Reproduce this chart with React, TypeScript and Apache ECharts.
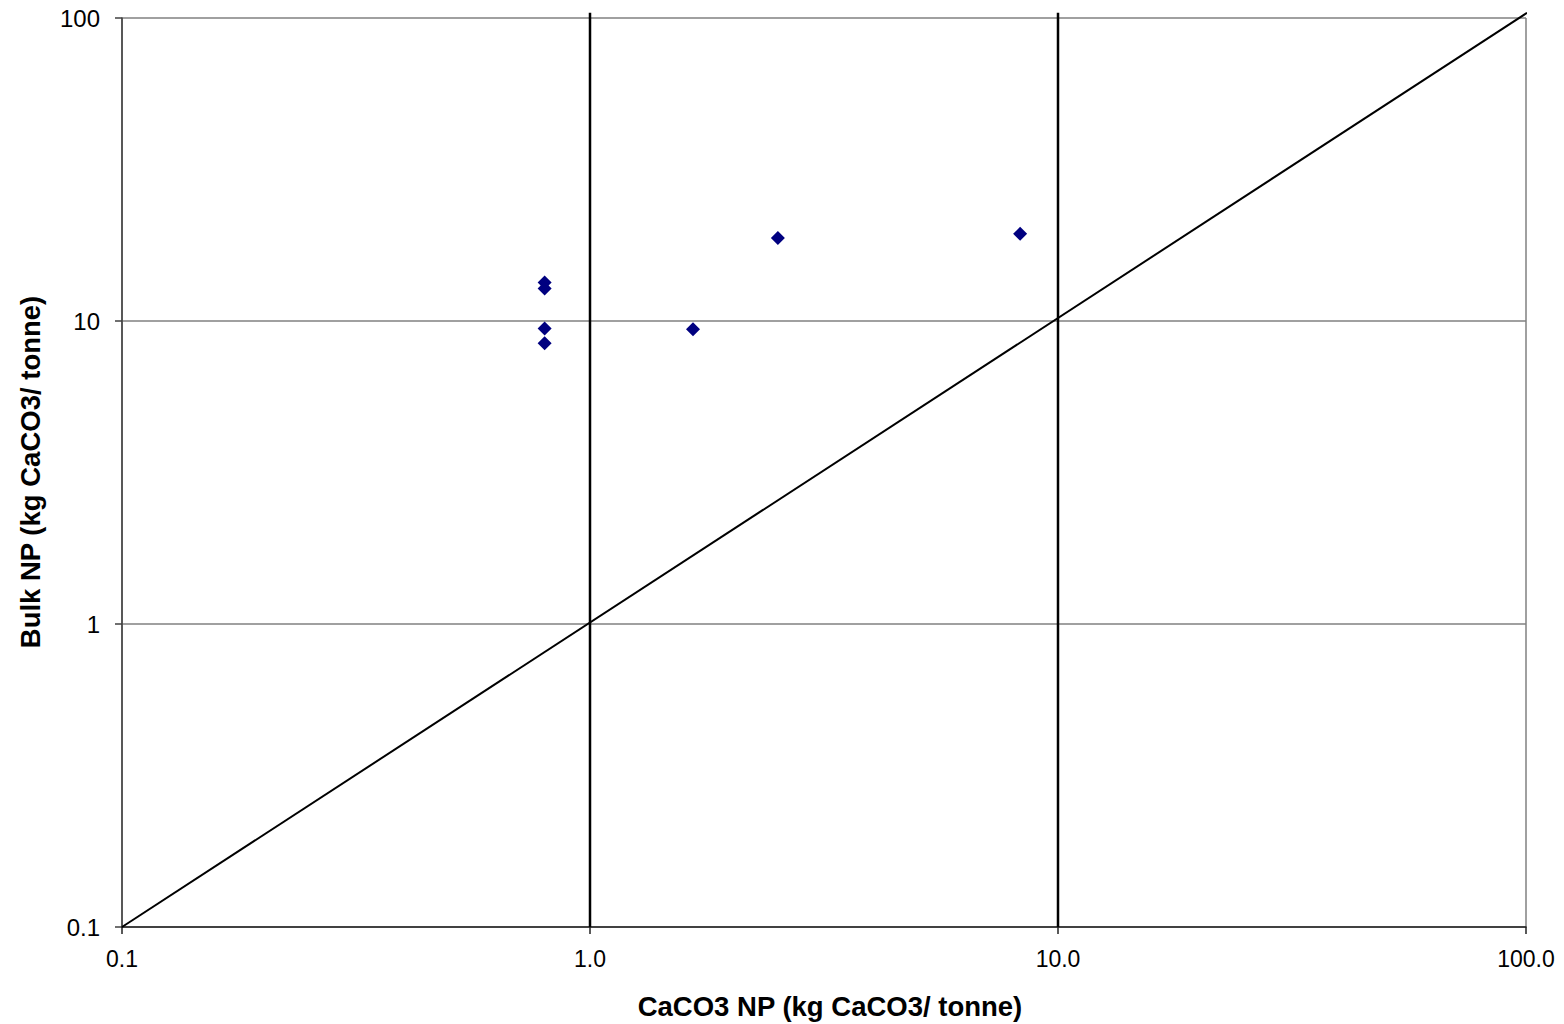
import React, { useEffect, useRef } from "react";
import * as echarts from "echarts";

const caco3NP = [0.8, 0.8, 0.8, 0.8, 1.66, 2.52, 8.3];
const bulkNP = [13.4, 12.8, 9.45, 8.45, 9.4, 18.8, 19.4];
const xTickLabels: Record<string, string> = { "0.1": "0.1", "1": "1.0", "10": "10.0", "100": "100.0" };
const yTickLabels: Record<string, string> = { "0.1": "0.1", "1": "1", "10": "10", "100": "100" };
const verticalLine1 = [[1, 0.1], [1, 104]];
const verticalLine10 = [[10, 0.1], [10, 104]];
const oneToOneLine = [[0.1, 0.1], [100.5, 104]];

const FONT = "'Liberation Sans', Arial, sans-serif";

function fmt(map: Record<string, string>, v: number) {
  const k = String(Math.round(v * 1000) / 1000);
  return map[k] ?? k;
}

export default function App() {
  const ref = useRef<HTMLDivElement>(null);
  useEffect(() => {
    if (!ref.current) return;
    const chart = echarts.init(ref.current, null, { renderer: "svg" });
    const points = caco3NP.map((x, i) => [x, bulkNP[i]]);
    chart.setOption({
      animation: false,
      backgroundColor: "#ffffff",
      textStyle: { fontFamily: FONT },
      grid: { left: 122, right: 38, top: 18, bottom: 97, containLabel: false },
      xAxis: {
        type: "log",
        logBase: 10,
        min: 0.1,
        max: 100,
        axisLine: { show: true, lineStyle: { color: "#222222", width: 1.5 } },
        axisTick: { show: true, inside: false, length: 7, lineStyle: { color: "#222222", width: 1.5 } },
        minorTick: { show: false },
        axisLabel: {
          color: "#000",
          fontSize: 23,
          fontFamily: FONT,
          margin: 20,
          formatter: (v: number) => fmt(xTickLabels, v),
        },
        splitLine: { show: true, lineStyle: { color: "#808080", width: 1.5 } },
      },
      yAxis: {
        type: "log",
        logBase: 10,
        min: 0.1,
        max: 100,
        axisLine: { show: true, lineStyle: { color: "#404040", width: 1.5 } },
        axisTick: { show: true, inside: false, length: 7, lineStyle: { color: "#404040", width: 1.5 } },
        minorTick: { show: false },
        axisLabel: {
          color: "#000",
          fontSize: 24,
          fontFamily: FONT,
          margin: 22,
          formatter: (v: number) => fmt(yTickLabels, v),
        },
        splitLine: { show: true, lineStyle: { color: "#808080", width: 1.5 } },
      },
      graphic: [
        {
          type: "text",
          x: 830,
          y: 1006,
          style: {
            text: "CaCO3 NP (kg CaCO3/ tonne)",
            fontFamily: FONT,
            fontWeight: "bold",
            fontSize: 27.5,
            fill: "#000",
            align: "center",
            verticalAlign: "middle",
          },
        },
        {
          type: "text",
          x: 30,
          y: 472,
          rotation: Math.PI / 2,
          style: {
            text: "Bulk NP (kg CaCO3/ tonne)",
            fontFamily: FONT,
            fontWeight: "bold",
            fontSize: 27.5,
            fill: "#000",
            align: "center",
            verticalAlign: "middle",
          },
        },
      ],
      series: [
        {
          type: "line",
          data: verticalLine1,
          showSymbol: false,
          symbol: "none",
          clip: false,
          lineStyle: { color: "#000", width: 2.5 },
          z: 3,
        },
        {
          type: "line",
          data: verticalLine10,
          showSymbol: false,
          symbol: "none",
          clip: false,
          lineStyle: { color: "#000", width: 2.5 },
          z: 3,
        },
        {
          type: "line",
          data: oneToOneLine,
          showSymbol: false,
          symbol: "none",
          clip: false,
          lineStyle: { color: "#000", width: 2 },
          z: 3,
        },
        {
          type: "scatter",
          data: points,
          symbol: "diamond",
          symbolSize: 14,
          itemStyle: { color: "#000080", opacity: 1 },
          z: 5,
        },
      ],
    });
    return () => chart.dispose();
  }, []);
  return (
    <div
      ref={ref}
      style={{ position: "fixed", left: 0, top: 0, width: 1564, height: 1024 }}
    />
  );
}
